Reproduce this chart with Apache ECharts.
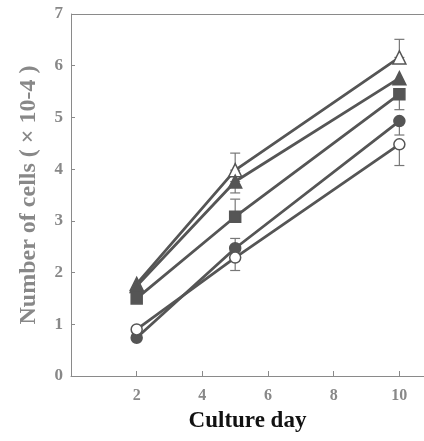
<!DOCTYPE html>
<html><head><meta charset="utf-8">
<script src="https://cdn.jsdelivr.net/npm/echarts@6/dist/echarts.min.js"></script>
<style>html,body{margin:0;padding:0;background:#fff}#c{width:424px;height:441px}</style>
</head><body><div id="c"></div>
<script>
const days = [2, 5, 10];
const xTicks = [2, 4, 6, 8, 10];
const yTicks = [0, 1, 2, 3, 4, 5, 6, 7];
const openTriangle = [1.78, 3.98, 6.16];
const filledTriangle = [1.74, 3.76, 5.76];
const filledSquare = [1.5, 3.08, 5.45];
const filledCircle = [0.74, 2.47, 4.93];
const openCircle = [0.9, 2.29, 4.48];
// error deltas [below, above]
const errOpenTriangle = [[0, 0], [0, 0.33], [0, 0.35]];
const errFilledTriangle = [[0, 0], [0.22, 0], [0, 0]];
const errFilledSquare = [[0, 0], [0, 0.34], [0.3, 0]];
const errFilledCircle = [[0, 0], [0, 0.19], [0.27, 0]];
const errOpenCircle = [[0, 0], [0.25, 0], [0.41, 0]];
const yTop = 7;

const lineColor = '#555';
const axisColor = '#8a8a8a';
const labelColor = '#888';
const serif = '"Liberation Serif","DejaVu Serif",serif';

function lineSeries(name, data, symbol, filled) {
  return {
    name, type: 'line', data: days.map((d, i) => [d, data[i]]),
    symbol, symbolSize: symbol === 'triangle' ? 13 : 11,
    lineStyle: { color: lineColor, width: 2.8 },
    itemStyle: { color: filled ? lineColor : '#fff', borderColor: lineColor, borderWidth: 1.5 },
    z: 3
  };
}
function errSeries(data, err) {
  return {
    type: 'custom', z: 2,
    data: days.map((d, i) => [d, data[i] - err[i][0], data[i] + err[i][1]]),
    renderItem: function (params, api) {
      const x = api.value(0);
      const lo = api.coord([x, api.value(1)]);
      const hi = api.coord([x, api.value(2)]);
      const w = 5;
      const st = { stroke: '#777', lineWidth: 1.2 };
      const ch = [{ type: 'line', shape: { x1: lo[0], y1: lo[1], x2: hi[0], y2: hi[1] }, style: st }];
      if (lo[1] - hi[1] > 1) {
        ch.push({ type: 'line', shape: { x1: lo[0] - w, y1: lo[1], x2: lo[0] + w, y2: lo[1] }, style: st });
        ch.push({ type: 'line', shape: { x1: hi[0] - w, y1: hi[1], x2: hi[0] + w, y2: hi[1] }, style: st });
      }
      return { type: 'group', children: ch };
    }
  };
}

const series = [
  errSeries(openTriangle, errOpenTriangle),
  errSeries(filledTriangle, errFilledTriangle),
  errSeries(filledSquare, errFilledSquare),
  errSeries(filledCircle, errFilledCircle),
  errSeries(openCircle, errOpenCircle),
  lineSeries('open triangle', openTriangle, 'triangle', false),
  lineSeries('filled triangle', filledTriangle, 'triangle', true),
  lineSeries('filled square', filledSquare, 'rect', true),
  lineSeries('filled circle', filledCircle, 'circle', true),
  lineSeries('open circle', openCircle, 'circle', false)
];
// top frame line
series[5].markLine = {
  silent: true, symbol: 'none', label: { show: false },
  lineStyle: { color: axisColor, width: 1, type: 'solid' },
  data: [{ yAxis: yTop }]
};

const chart = echarts.init(document.getElementById('c'));
chart.setOption({
  animation: false,
  grid: { left: 71, right: 0, top: 14, bottom: 65, containLabel: false, outerBoundsMode: 'none' },
  xAxis: {
    type: 'value', min: 0, max: 10.75, interval: 2,
    name: 'Culture day', nameLocation: 'middle', nameGap: 34,
    nameTextStyle: { fontFamily: serif, fontWeight: 'bold', fontSize: 23, color: '#111' },
    axisLine: { lineStyle: { color: axisColor, width: 1 } },
    axisTick: { inside: true, length: 5, lineStyle: { color: axisColor } },
    axisLabel: { fontFamily: serif, fontWeight: 'bold', fontSize: 16, color: labelColor, margin: 12,
      formatter: v => xTicks.indexOf(v) >= 0 ? String(v) : '' },
    splitLine: { show: false }
  },
  yAxis: {
    type: 'value', min: 0, max: yTop, interval: 1,
    name: 'Number of cells ( \u00d7 10-4 )', nameLocation: 'middle', nameGap: 30,
    nameTextStyle: { fontFamily: serif, fontWeight: 'bold', fontSize: 24, color: labelColor },
    axisLine: { show: true, lineStyle: { color: axisColor, width: 1 } },
    axisTick: { show: true, inside: true, length: 4, lineStyle: { color: axisColor } },
    axisLabel: { fontFamily: serif, fontWeight: 'bold', fontSize: 17, color: labelColor, margin: 8,
      formatter: v => yTicks.indexOf(v) >= 0 ? String(v) : '' },
    splitLine: { show: false }
  },
  series
});
</script></body></html>
